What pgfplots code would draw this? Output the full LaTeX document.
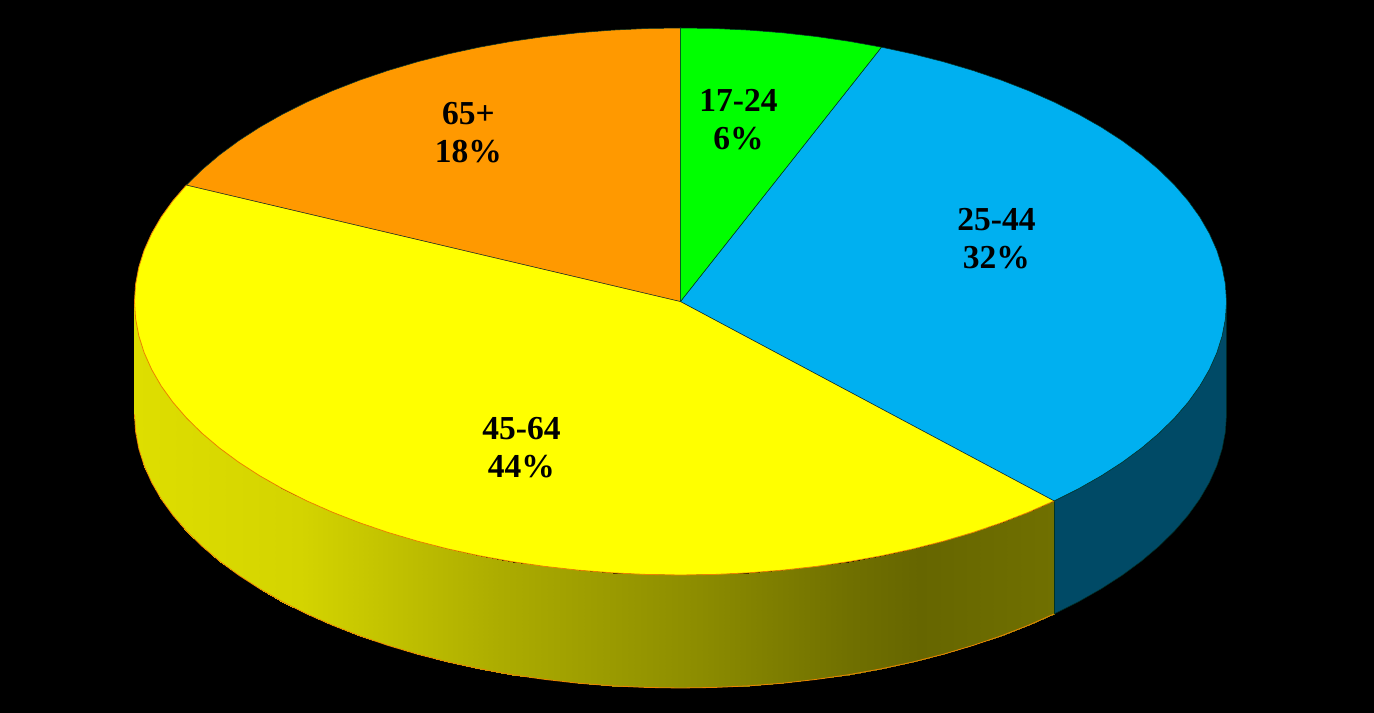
\documentclass[border=0pt]{standalone}
\usepackage{fontspec}
\setmainfont{Liberation Serif}
\usepackage{pgfplots}
\pgfplotsset{compat=1.18}
\definecolor{sgreen}{RGB}{0,255,0}
\definecolor{sblue}{RGB}{0,176,240}
\definecolor{syellow}{RGB}{255,255,0}
\definecolor{sorange}{RGB}{255,153,0}
\definecolor{sideblue}{RGB}{0,74,102}
\definecolor{rimorange}{RGB}{235,130,0}
\definecolor{edgedark}{RGB}{0,50,40}

\newcommand{\lab}[3]{\node[align=center, inner sep=0pt, font=\fontsize{33.5bp}{38bp}\selectfont\bfseries] at (axis cs:#1,#2) {#3};}

\begin{document}
\begin{tikzpicture}
\fill[black] (0,0) rectangle (1374bp,713bp);
\begin{axis}[
    at={(0,0)}, anchor=south west,
    scale only axis, width=1374bp, height=713bp,
    xmin=-680.5, xmax=693.5, ymin=-411.5, ymax=301.5,
    hide axis,
    colormap={yside}{rgb255(0)=(222,222,0) rgb255(166)=(212,212,0) rgb255(366)=(172,172,0)
        rgb255(566)=(140,140,0) rgb255(716)=(112,112,0) rgb255(786)=(102,102,0) rgb255(921)=(112,112,0)},
]
% side of the 25-44 slice
\addplot[fill=sideblue, draw=edgedark, line width=0.5bp, line join=round] coordinates {
    (546,0)(544.92,-17.17)(541.69,-34.28)(536.33,-51.25)(528.84,-68.02)(519.28,-84.52)
    (507.66,-100.68)(494.04,-116.45)(478.47,-131.76)(461.00,-146.55)(441.72,-160.76)
    (420.70,-174.33)(398.02,-187.22)(373.76,-199.37)
    (373.76,-312.37)(398.02,-300.22)(420.70,-287.33)(441.72,-273.76)(461.00,-259.55)
    (478.47,-244.76)(494.04,-229.45)(507.66,-213.68)(519.28,-197.52)(528.84,-181.02)
    (536.33,-164.25)(541.69,-147.28)(544.92,-130.17)(546,-113)(546,0)};
% side of the 45-64 slice, shaded left to right
\addplot[surf, shader=interp, mesh/rows=2, mesh/cols=38, point meta=x] table {
x y
373.76 -199.37
348.03 -210.73
320.93 -221.27
292.56 -230.92
263.04 -239.67
232.48 -247.47
200.99 -254.29
168.72 -260.12
135.78 -264.91
102.31 -268.66
68.43 -271.34
34.28 -272.96
0 -273.5
-34.28 -272.96
-68.43 -271.34
-102.31 -268.66
-135.78 -264.91
-168.72 -260.12
-200.99 -254.29
-232.48 -247.47
-263.04 -239.67
-292.56 -230.92
-320.93 -221.27
-348.03 -210.73
-373.76 -199.37
-398.02 -187.22
-420.70 -174.33
-441.72 -160.76
-461.00 -146.55
-478.47 -131.76
-494.04 -116.45
-507.66 -100.68
-519.28 -84.52
-528.84 -68.02
-536.33 -51.25
-541.69 -34.28
-544.92 -17.17
-546 0
373.76 -312.37
348.03 -323.73
320.93 -334.27
292.56 -343.92
263.04 -352.67
232.48 -360.47
200.99 -367.29
168.72 -373.12
135.78 -377.91
102.31 -381.66
68.43 -384.34
34.28 -385.96
0 -386.5
-34.28 -385.96
-68.43 -384.34
-102.31 -381.66
-135.78 -377.91
-168.72 -373.12
-200.99 -367.29
-232.48 -360.47
-263.04 -352.67
-292.56 -343.92
-320.93 -334.27
-348.03 -323.73
-373.76 -312.37
-398.02 -300.22
-420.70 -287.33
-441.72 -273.76
-461.00 -259.55
-478.47 -244.76
-494.04 -229.45
-507.66 -213.68
-519.28 -197.52
-528.84 -181.02
-536.33 -164.25
-541.69 -147.28
-544.92 -130.17
-546 -113
};
% bottom rim of the yellow side
\addplot[draw=rimorange, line width=0.8bp, line join=round] coordinates {
    (373.76,-312.37)(348.03,-323.73)(320.93,-334.27)(292.56,-343.92)(263.04,-352.67)
    (232.48,-360.47)(200.99,-367.29)(168.72,-373.12)(135.78,-377.91)(102.31,-381.66)
    (68.43,-384.34)(34.28,-385.96)(0,-386.5)(-34.28,-385.96)(-68.43,-384.34)(-102.31,-381.66)
    (-135.78,-377.91)(-168.72,-373.12)(-200.99,-367.29)(-232.48,-360.47)(-263.04,-352.67)
    (-292.56,-343.92)(-320.93,-334.27)(-348.03,-323.73)(-373.76,-312.37)(-398.02,-300.22)
    (-420.70,-287.33)(-441.72,-273.76)(-461.00,-259.55)(-478.47,-244.76)(-494.04,-229.45)
    (-507.66,-213.68)(-519.28,-197.52)(-528.84,-181.02)(-536.33,-164.25)(-541.69,-147.28)
    (-544.92,-130.17)(-546,-113)};
% edge between the two sides
\addplot[draw=edgedark, line width=0.6bp] coordinates {(373.76,-199.37)(373.76,-312.37)};
% 45-64
\addplot[fill=syellow, draw=rimorange, line width=0.8bp, line join=round] coordinates {
    (0,0)(373.76,-199.37)(348.03,-210.73)(320.93,-221.27)(292.56,-230.92)(263.04,-239.67)
    (232.48,-247.47)(200.99,-254.29)(168.72,-260.12)(135.78,-264.91)(102.31,-268.66)
    (68.43,-271.34)(34.28,-272.96)(0,-273.5)(-34.28,-272.96)(-68.43,-271.34)(-102.31,-268.66)
    (-135.78,-264.91)(-168.72,-260.12)(-200.99,-254.29)(-232.48,-247.47)(-263.04,-239.67)
    (-292.56,-230.92)(-320.93,-221.27)(-348.03,-210.73)(-373.76,-199.37)(-398.02,-187.22)
    (-420.70,-174.33)(-441.72,-160.76)(-461.00,-146.55)(-478.47,-131.76)(-494.04,-116.45)
    (-507.66,-100.68)(-519.28,-84.52)(-528.84,-68.02)(-536.33,-51.25)(-541.69,-34.28)
    (-544.92,-17.17)(-546,0)(-544.92,17.17)(-541.69,34.28)(-536.33,51.25)(-528.84,68.02)
    (-519.28,84.52)(-507.66,100.68)(-494.04,116.45)(0,0)};
% 65+
\addplot[fill=sorange, draw=edgedark, line width=0.5bp, line join=round] coordinates {
    (0,0)(-494.04,116.45)(-478.47,131.76)(-461.00,146.55)(-441.72,160.76)(-420.70,174.33)
    (-398.02,187.22)(-373.76,199.37)(-348.03,210.73)(-320.93,221.27)(-292.56,230.92)
    (-263.04,239.67)(-232.48,247.47)(-200.99,254.29)(-168.72,260.12)(-135.78,264.91)
    (-102.31,268.66)(-68.43,271.34)(-34.28,272.96)(0,273.5)(0,0)};
% 25-44
\addplot[fill=sblue, draw=edgedark, line width=0.5bp, line join=round] coordinates {
    (0,0)(200.99,254.29)(232.48,247.47)(263.04,239.67)(292.56,230.92)(320.93,221.27)
    (348.03,210.73)(373.76,199.37)(398.02,187.22)(420.70,174.33)(441.72,160.76)(461.00,146.55)
    (478.47,131.76)(494.04,116.45)(507.66,100.68)(519.28,84.52)(528.84,68.02)(536.33,51.25)
    (541.69,34.28)(544.92,17.17)(546,0)(544.92,-17.17)(541.69,-34.28)(536.33,-51.25)
    (528.84,-68.02)(519.28,-84.52)(507.66,-100.68)(494.04,-116.45)(478.47,-131.76)
    (461.00,-146.55)(441.72,-160.76)(420.70,-174.33)(398.02,-187.22)(373.76,-199.37)(0,0)};
% 17-24
\addplot[fill=sgreen, draw=edgedark, line width=0.5bp, line join=round] coordinates {
    (0,0)(0,273.5)(34.28,272.96)(68.43,271.34)(102.31,268.66)(135.78,264.91)(168.72,260.12)
    (200.99,254.29)(0,0)};
\lab{58}{181.5}{17-24\\6\%}
\lab{316}{62.5}{25-44\\32\%}
\lab{-159}{-146.5}{45-64\\44\%}
\lab{-212}{168.5}{65+\\18\%}
\end{axis}
\end{tikzpicture}
\end{document}
